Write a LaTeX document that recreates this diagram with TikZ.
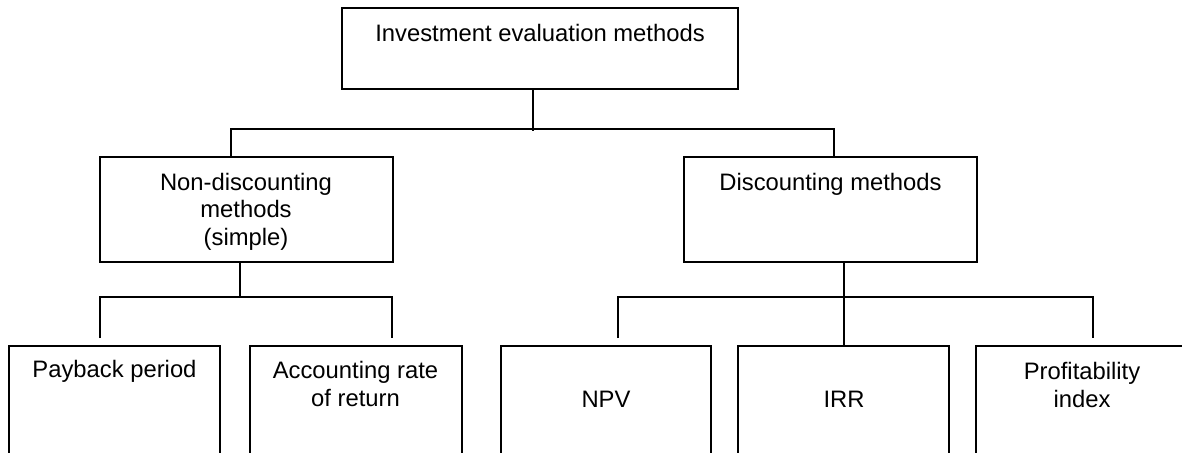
\documentclass[tikz,border=0pt]{standalone}
\usepackage{fontspec}
\setmainfont{Liberation Sans}
\usetikzlibrary{positioning}

\begin{document}
\begin{tikzpicture}[x=0.5pt, y=-0.5pt,
            box/.style = {draw, line width=1pt, inner sep=0pt},
            txt/.style = {inner sep=0pt, align=center, font=\fontsize{11.9}{13.7}\selectfont},
            conn/.style = {line width=1pt}]
            \useasboundingbox (0,0) rectangle (1182,452);
            \clip (0,0) rectangle (1182,452);
            % boxes
            \node[box, minimum width=198pt, minimum height=40.5pt] (root) at (540,48.5) {};
            \node[box, minimum width=146.5pt, minimum height=52.5pt] (nondisc) at (246.5,209.5) {};
            \node[box, minimum width=146.5pt, minimum height=52.5pt] (disc) at (830.5,209.5) {};
            \node[box, minimum width=105.5pt, minimum height=77pt] (pay) at (114.5,423) {};
            \node[box, minimum width=106pt, minimum height=77pt] (arr) at (356,423) {};
            \node[box, minimum width=105pt, minimum height=77pt] (npv) at (606,423) {};
            \node[box, minimum width=105.5pt, minimum height=77pt] (irr) at (843.5,423) {};
            \node[box, minimum width=105.5pt, minimum height=77pt] (pi) at (1081.5,423) {};
            % texts (base = last line)
            \node[txt, anchor=base] (roottext) at (540,41) {Investment evaluation methods};
            \node[txt, anchor=base] (nondisctext) at (246,245) {Non-discounting\\methods\\(simple)};
            \node[txt, anchor=base] (disctext) at (830.5,190) {Discounting methods};
            \node[txt, anchor=base] (paytext) at (114.5,377) {Payback period};
            \node[txt, anchor=base] (arrtext) at (355.5,406) {Accounting rate\\of return};
            \node[txt, anchor=base] (npvtext) at (606,407) {NPV};
            \node[txt, anchor=base] (irrtext) at (844,407) {IRR};
            \node[txt, anchor=base] (pitext) at (1082,407) {Profitability\\index};
            % connectors
            \coordinate (payend) at (100,338);
            \coordinate (arrend) at (392,338);
            \coordinate (npvend) at (618,338);
            \coordinate (piend) at (1093,338);
            \draw[conn] ([xshift=-3.5pt]root.south) -- ++(0,41);
            \draw[conn] ([xshift=-7.75pt]nondisc.north) -- ++(0,-27) -| ([xshift=1.75pt]disc.north);
            \draw[conn] ([xshift=-3.25pt]nondisc.south) -- ++(0,35);
            \draw[conn] (payend) -- ++(0,-41) -| (arrend);
            \draw[conn] (disc.south -| irr.north) -- (irr.north);
            \draw[conn] (npvend) -- ++(0,-41) -| (piend);
        \end{tikzpicture}
\end{document}
